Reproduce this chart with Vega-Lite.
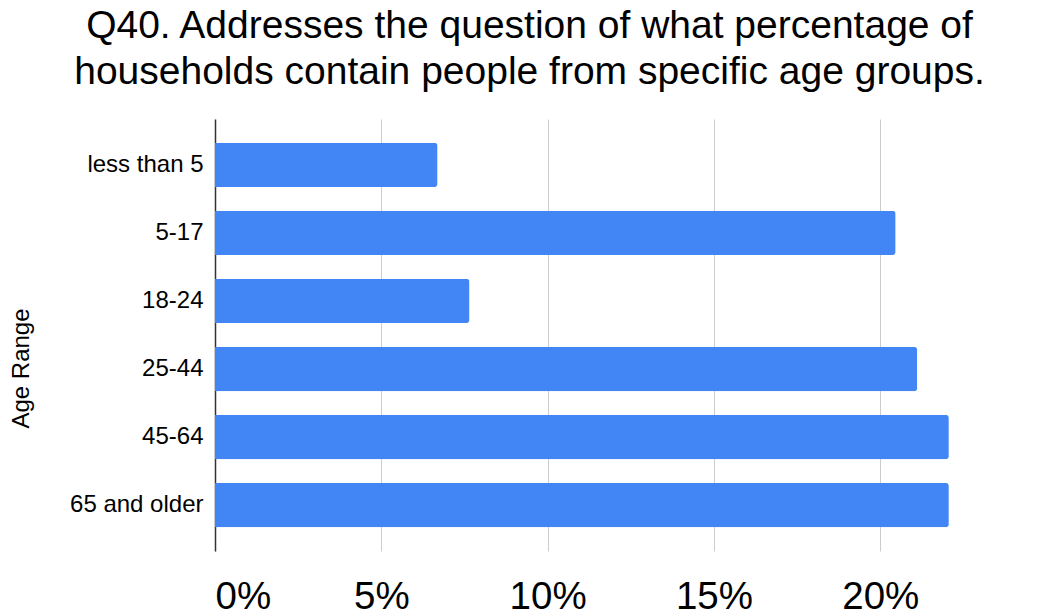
{
  "$schema": "https://vega.github.io/schema/vega-lite/v6.json",
  "autosize": "none",
  "width": 815,
  "height": 432,
  "padding": {"left": 215, "top": 119, "right": 14, "bottom": 65},
  "background": "white",
  "title": {
    "text": ["Q40. Addresses the question of what percentage of", "households contain people from specific age groups."],
    "font": "Liberation Sans",
    "fontSize": 39,
    "fontWeight": "normal",
    "color": "#000000",
    "anchor": "middle",
    "dx": -93,
    "baseline": "alphabetic",
    "lineHeight": 46,
    "offset": -4
  },
  "data": {
    "values": [
      {"age": "less than 5", "pct": 0.0669},
      {"age": "5-17", "pct": 0.2046},
      {"age": "18-24", "pct": 0.0765},
      {"age": "25-44", "pct": 0.2111},
      {"age": "45-64", "pct": 0.2206},
      {"age": "65 and older", "pct": 0.2206}
    ]
  },
  "mark": {"type": "bar", "color": "#4285F4", "cornerRadiusEnd": 3},
  "encoding": {
    "y": {
      "field": "age",
      "type": "nominal",
      "sort": null,
      "scale": {"paddingInner": 0.35, "paddingOuter": 0.35},
      "axis": {
        "title": "Age Range",
        "titleFont": "Liberation Sans",
        "titleFontSize": 24,
        "titleFontWeight": "normal",
        "titleColor": "#000000",
        "titlePadding": 36,
        "titleY": 249,
        "labelFont": "Liberation Sans",
        "labelFontSize": 24,
        "labelColor": "#000000",
        "labelPadding": 12,
        "ticks": false,
        "tickSize": 0,
        "domainColor": "#333333",
        "domainWidth": 1.5,
        "grid": false
      }
    },
    "x": {
      "field": "pct",
      "type": "quantitative",
      "scale": {"domain": [0, 0.245], "nice": false},
      "axis": {
        "title": null,
        "values": [0, 0.05, 0.1, 0.15, 0.2],
        "format": ".0%",
        "labelFont": "Liberation Sans",
        "labelFontSize": 38.5,
        "labelColor": "#000000",
        "labelBaseline": "alphabetic",
        "labelPadding": 57,
        "ticks": false,
        "tickSize": 0,
        "domain": false,
        "grid": true,
        "gridColor": "#cccccc",
        "gridWidth": 1
      }
    }
  },
  "config": {"view": {"stroke": null}}
}
